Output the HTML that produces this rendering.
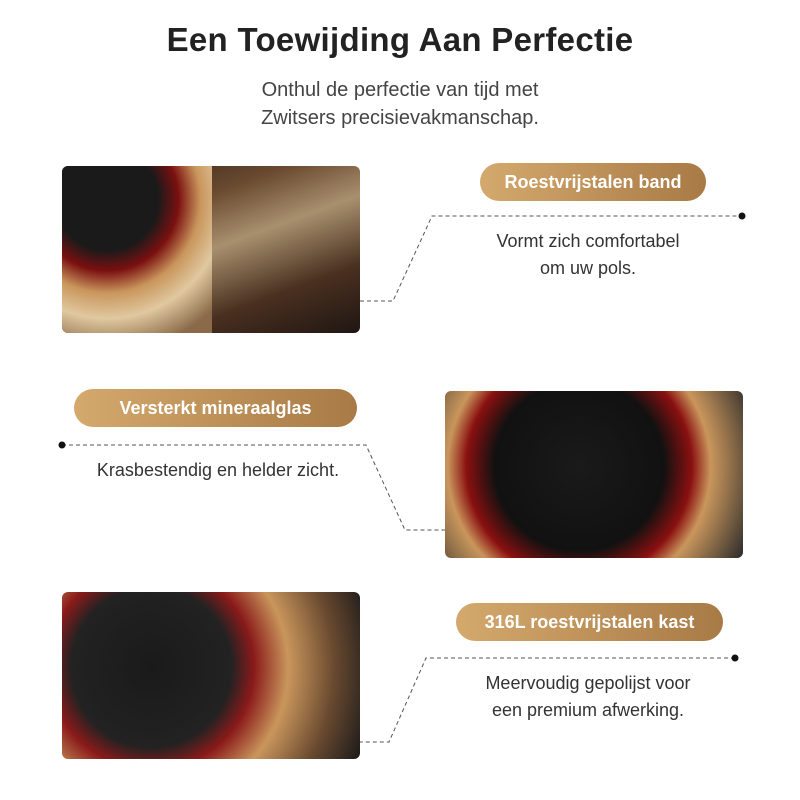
<!DOCTYPE html>
<html><head><style>
body{margin:0;width:800px;height:800px;background:#fff;position:relative;overflow:hidden;font-family:"Liberation Sans",sans-serif}
.t{position:absolute;left:0;width:800px;text-align:center}
.pill{position:absolute;height:38px;border-radius:19px;background:linear-gradient(90deg,#d4a96d,#a87a45);color:#fff;font-weight:bold;font-size:18px;line-height:38px;text-align:center}
.img{position:absolute;width:298px;height:167px;border-radius:6px;overflow:hidden}
.d{position:absolute;color:#333;font-size:18px;text-align:center;line-height:27px}
</style></head><body>
<div class="t" style="top:21px;font-size:33px;font-weight:bold;color:#222;letter-spacing:0.3px">Een Toewijding Aan Perfectie</div>
<div class="t" style="top:76px;font-size:20px;color:#444;line-height:28px">Onthul de perfectie van tijd met<br>Zwitsers precisievakmanschap.</div>

<div class="img" style="left:62px;top:166px;background:linear-gradient(160deg,#2a1d18 0,#6a4a30 30%,#a8906e 50%,#4a3020 75%,#1f1612 100%)">
<div style="position:absolute;left:0;top:0;width:150px;height:167px;background:radial-gradient(circle at 30% 20%,#1a1a1a 30%,#7a1010 42%,#c9965c 55%,#e0c8a0 70%,#8a6a48 90%)"></div></div>
<div class="img" style="left:445px;top:391px;background:radial-gradient(circle at 45% 45%,#1a1a1a 0,#111 45%,#8a1010 60%,#c9965c 70%,#2a2a2a 100%)"></div>
<div class="img" style="left:62px;top:592px;background:radial-gradient(circle at 30% 45%,#1a1a1a 0,#222 35%,#8a1a1a 45%,#c9965c 60%,#6a4a30 80%,#1a1a1a 100%)"></div>

<div class="pill" style="left:480px;top:163px;width:226px">Roestvrijstalen band</div>
<div class="pill" style="left:74px;top:389px;width:283px">Versterkt mineraalglas</div>
<div class="pill" style="left:456px;top:603px;width:267px">316L roestvrijstalen kast</div>

<div class="d" style="left:438px;width:300px;top:228px">Vormt zich comfortabel<br>om uw pols.</div>
<div class="d" style="left:68px;width:300px;top:457px">Krasbestendig en helder zicht.</div>
<div class="d" style="left:438px;width:300px;top:670px">Meervoudig gepolijst voor<br>een premium afwerking.</div>

<svg width="800" height="800" style="position:absolute;left:0;top:0" fill="none">
<g stroke="#555" stroke-width="1" stroke-dasharray="4,3">
<polyline points="360,301 393,301 432,216 742,216"/>
<polyline points="62,445 366,445 405,530 445,530"/>
<polyline points="735,658 426,658 389,742 360,742"/>
</g>
<g fill="#111"><circle cx="742" cy="216" r="3.5"/><circle cx="62" cy="445" r="3.5"/><circle cx="735" cy="658" r="3.5"/></g>
</svg>
</body></html>
